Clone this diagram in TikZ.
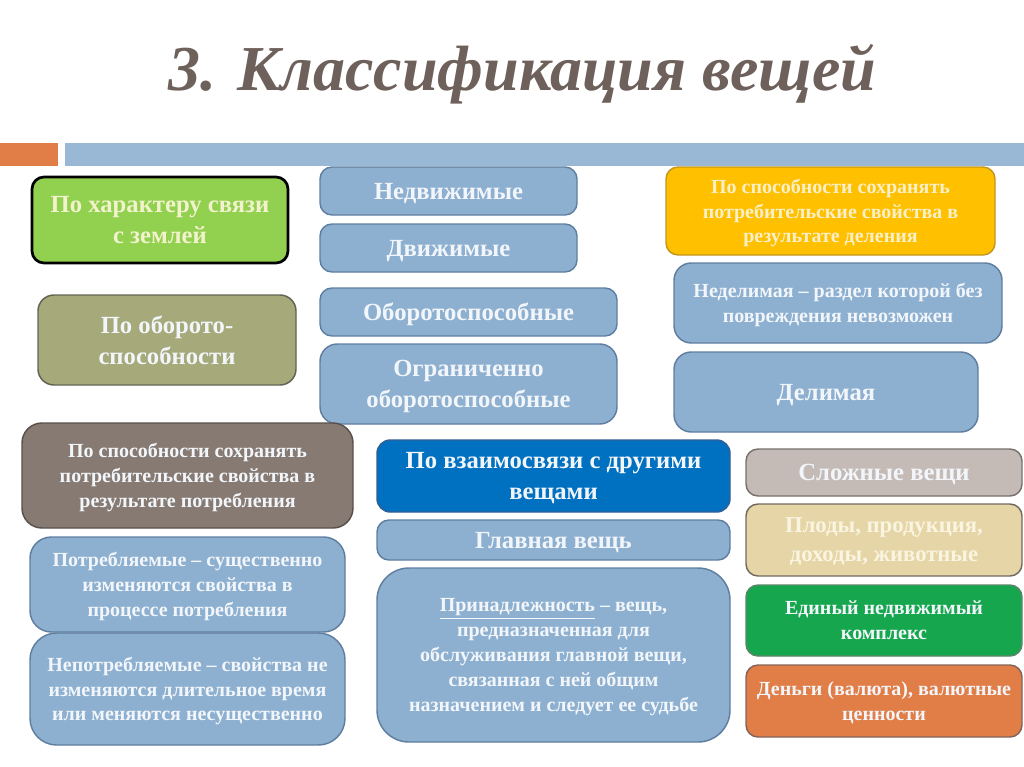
\documentclass[tikz,border=0pt]{standalone}
\usepackage{fontspec}
\setmainfont{Liberation Serif}
\usetikzlibrary{arrows.meta,calc}
\pgfdeclarelayer{bg}
\pgfsetlayers{bg,main}
\definecolor{bxfill}{RGB}{141,176,209}
\definecolor{bxline}{RGB}{96,126,160}
\definecolor{cgreen}{RGB}{146,208,80}
\definecolor{ccream}{RGB}{242,242,205}
\definecolor{colive}{RGB}{166,169,122}
\definecolor{colivel}{RGB}{100,100,85}
\definecolor{cyellow}{RGB}{255,192,0}
\definecolor{cyellowl}{RGB}{195,150,30}
\definecolor{cyt}{RGB}{250,240,200}
\definecolor{cbrown}{RGB}{134,122,115}
\definecolor{cbrownl}{RGB}{90,80,75}
\definecolor{cblue}{RGB}{0,112,192}
\definecolor{cbluel}{RGB}{50,95,150}
\definecolor{cslo}{RGB}{197,187,182}
\definecolor{cslol}{RGB}{120,112,108}
\definecolor{cplo}{RGB}{230,213,167}
\definecolor{cplol}{RGB}{115,105,95}
\definecolor{cplot}{RGB}{250,245,225}
\definecolor{cedi}{RGB}{22,166,78}
\definecolor{cedil}{RGB}{90,135,105}
\definecolor{cden}{RGB}{225,125,70}
\definecolor{cdenl}{RGB}{130,100,90}
\definecolor{ctitle}{RGB}{110,96,90}
\definecolor{cbar}{RGB}{152,184,214}
\definecolor{cconn}{RGB}{180,180,180}
\definecolor{ctxt}{RGB}{242,246,250}
% box macro: style, name, x1, y1, x2, y2, text  (pixel coordinates)
\newcommand\bx[7]{%
  \pgfmathsetmacro\bxcx{(#3+#5)/2}%
  \pgfmathsetmacro\bxcy{(#4+#6)/2}%
  \pgfmathsetmacro\bxw{0.75*(#5-#3)}%
  \pgfmathsetmacro\bxh{0.75*(#6-#4)}%
  \node[box,#1,minimum width=\bxw pt,minimum height=\bxh pt] (#2) at (\bxcx,\bxcy) {#7};}
\begin{document}
\begin{tikzpicture}[x=0.75pt,y=-0.75pt,
  box/.style={draw=bxline, fill=bxfill, line width=1.1pt, rounded corners=9pt,
    inner sep=0pt, align=center, text=ctxt, text depth=0pt,
    font=\bfseries\fontsize{18.5}{23}\selectfont},
  small/.style={font=\bfseries\fontsize{15}{18.6}\selectfont},
  mid/.style={font=\bfseries\fontsize{17}{21.7}\selectfont},
  conn/.style={draw=cconn, line width=0.9pt},
  chev/.style={-{Straight Barb[length=4pt,width=8pt,line width=0.9pt]}}]
\useasboundingbox[fill=white] (0,0) rectangle (1024,767);
% title and bars
\node[font=\bfseries\itshape\fontsize{48}{52}\selectfont, text=ctitle] (title) at (522,74) {3. Классификация вещей};
\fill[cden] (0,143) rectangle (58,166);
\fill[cbar] (65,143) rectangle (1024,166);
% boxes
\bx{fill=cgreen, draw=black, line width=2pt, text=ccream}{g}{32}{177}{288}{263}{По характеру связи\\с землей}
\bx{}{ned}{320}{167}{577}{215}{Недвижимые}
\bx{}{dvi}{320}{224}{577}{272}{Движимые}
\bx{fill=colive, draw=colivel, rounded corners=12pt}{ob}{38}{295}{296}{385}{По оборото-\\способности}
\bx{}{obs}{320}{288}{617}{336}{Оборотоспособные}
\bx{rounded corners=13pt}{ogr}{320}{344}{617}{424}{Ограниченно\\оборотоспособные}
\bx{small, fill=cyellow, draw=cyellowl, text=cyt}{yel}{666}{167}{995}{255}{По способности сохранять\\потребительские свойства в\\результате деления}
\bx{small, rounded corners=13pt}{ndl}{674}{263}{1002}{343}{Неделимая – раздел которой без\\повреждения невозможен}
\bx{rounded corners=13pt}{del}{674}{352}{978}{432}{Делимая}
\bx{small, fill=cbrown, draw=cbrownl, rounded corners=15pt}{br}{22}{423}{353}{528}{По способности сохранять\\потребительские свойства в\\результате потребления}
\bx{small, rounded corners=16pt}{pot}{30}{537}{345}{632}{Потребляемые – существенно\\изменяются свойства в\\процессе потребления}
\bx{small, rounded corners=20pt}{nep}{30}{633}{345}{745}{Непотребляемые – свойства не\\изменяются длительное время\\или меняются несущественно}
\bx{fill=cblue, draw=cbluel, rounded corners=10pt}{vz}{377}{440}{730}{512}{По взаимосвязи с другими\\вещами}
\bx{}{gl}{377}{520}{730}{560}{Главная вещь}
\bx{small, rounded corners=24pt}{pr}{377}{568}{730}{742}{\underline{Принадлежность} – вещь,\\предназначенная для\\обслуживания главной вещи,\\связанная с ней общим\\назначением и следует ее судьбе}
\bx{fill=cslo, draw=cslol}{slo}{746}{449}{1022}{496}{Сложные вещи}
\bx{mid, fill=cplo, draw=cplol, text=cplot}{plo}{746}{504}{1022}{576}{Плоды, продукция,\\доходы, животные}
\bx{small, fill=cedi, draw=cedil}{edi}{746}{585}{1022}{656}{Единый недвижимый\\комплекс}
\bx{small, fill=cden, draw=cdenl}{den}{746}{665}{1022}{737}{Деньги (валюта), валютные\\ценности}
% connectors
\begin{pgfonlayer}{bg}
\draw[conn,chev] (g.east) -- ++(15,0) |- (ned.west);
\draw[conn,chev] (g.east) -- ++(15,0) |- (dvi.west);
\draw[conn,chev] (ob.east) -- ++(12,0) |- (obs.west);
\draw[conn,chev] (ob.east) -- ++(12,0) |- (ogr.west);
% right group
\coordinate (r1) at (670,250);
\coordinate (r2) at (670,303);
\draw[conn,chev] (r1) -- (r2);
\draw[conn] (674,295) -- (642,295) -- (642,344) -- (674,344);
\coordinate (r3) at (673,344);
\coordinate (r4) at (673,392);
\draw[conn,chev] (r3) -- (r4);
% lower-left group
\draw[conn] (22,520) -- (22,582);
\draw[conn] (22,543) -- (32,543);
\draw[conn] (22,582) -- (32,582);
\coordinate (l1) at (31,600);
\coordinate (l2) at (31,625);
\coordinate (l3) at (31,670);
\coordinate (l4) at (31,695);
\draw[conn,chev] (l1) -- (l2);
\draw[conn,chev] (l3) -- (l4);
% middle group
\draw[conn] (375,505) -- (375,528);
\draw[conn] (377,528) -- (368,528) -- (368,600) -- (378,600);
\coordinate (m1) at (376,515);
\coordinate (m2) at (376,538);
\coordinate (m3) at (376,650);
\coordinate (m4) at (376,672);
\draw[conn,chev] (m1) -- (m2);
\draw[conn,chev] (m3) -- (m4);
\end{pgfonlayer}
\end{tikzpicture}
\end{document}
